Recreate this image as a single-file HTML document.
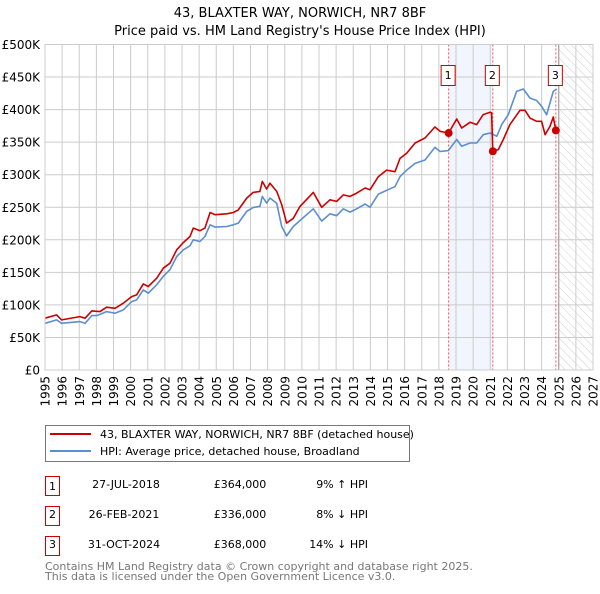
<!DOCTYPE html>
<html><head><meta charset="utf-8"><style>
body{margin:0;background:#fff;font-family:"DejaVu Sans","Liberation Sans",sans-serif;}
svg text{font-family:"DejaVu Sans","Liberation Sans",sans-serif;}
</style></head><body>
<svg id="chart" width="600" height="590" xmlns="http://www.w3.org/2000/svg">
<defs><pattern id="hatch" patternUnits="userSpaceOnUse" width="6" height="6" patternTransform="rotate(-45)"><line x1="0" y1="0" x2="0" y2="6" stroke="#bbb" stroke-width="0.7"/></pattern></defs>
<text x="300" y="17" text-anchor="middle" font-size="13">43, BLAXTER WAY, NORWICH, NR7 8BF</text>
<text x="300" y="35" text-anchor="middle" font-size="13">Price paid vs. HM Land Registry's House Price Index (HPI)</text>
<g id="plot"></g>
<g>
<rect x="45.5" y="425.5" width="364" height="36" fill="#fff" stroke="#777"/>
<line x1="50" y1="434" x2="91" y2="434" stroke="#cc0000" stroke-width="2"/>
<text x="100" y="438" font-size="11">43, BLAXTER WAY, NORWICH, NR7 8BF (detached house)</text>
<line x1="50" y1="451" x2="91" y2="451" stroke="#5b8fd0" stroke-width="2"/>
<text x="100" y="455" font-size="11">HPI: Average price, detached house, Broadland</text>
</g>
<g font-size="11">
<rect x="45.5" y="476.5" width="14" height="19" fill="#fff" stroke="#c00"/><text x="52.5" y="490" text-anchor="middle">1</text>
<text x="126" y="488" text-anchor="middle">27-JUL-2018</text><text x="240" y="488" text-anchor="middle">£364,000</text><text x="368" y="488" text-anchor="end">9% ↑ HPI</text>
<rect x="45.5" y="506.5" width="14" height="19" fill="#fff" stroke="#c00"/><text x="52.5" y="518" text-anchor="middle">2</text>
<text x="124" y="518" text-anchor="middle">26-FEB-2021</text><text x="240" y="518" text-anchor="middle">£336,000</text><text x="368" y="518" text-anchor="end">8% ↓ HPI</text>
<rect x="45.5" y="536.5" width="14" height="19" fill="#fff" stroke="#c00"/><text x="52.5" y="548" text-anchor="middle">3</text>
<text x="124" y="548" text-anchor="middle">31-OCT-2024</text><text x="240" y="548" text-anchor="middle">£368,000</text><text x="368" y="548" text-anchor="end">14% ↓ HPI</text>
</g>
<text x="45" y="570" font-size="11" fill="#777">Contains HM Land Registry data © Crown copyright and database right 2025.</text>
<text x="45" y="580" font-size="11" fill="#777">This data is licensed under the Open Government Licence v3.0.</text>
</svg>
<script>
const yTicks=[0,50,100,150,200,250,300,350,400,450,500];
const yTickLabels=["£0","£50K","£100K","£150K","£200K","£250K","£300K","£350K","£400K","£450K","£500K"];
const xYears=[1995,1996,1997,1998,1999,2000,2001,2002,2003,2004,2005,2006,2007,2008,2009,2010,2011,2012,2013,2014,2015,2016,2017,2018,2019,2020,2021,2022,2023,2024,2025,2026,2027];
const hpiDates=[1995,1995.68,1995.97,1997.04,1997.34,1997.73,1998.02,1998.6,1999.09,1999.57,2000.06,2000.35,2000.74,2001.03,2001.52,2001.91,2002.3,2002.69,2003.08,2003.47,2003.66,2004.05,2004.34,2004.64,2004.93,2005.61,2006.0,2006.29,2006.78,2007.16,2007.55,2007.69,2007.94,2008.14,2008.53,2008.82,2009.11,2009.5,2009.89,2010.67,2011.16,2011.64,2012.03,2012.42,2012.81,2013.2,2013.69,2013.98,2014.46,2014.95,2015.44,2015.73,2016.12,2016.61,2017.19,2017.77,2018.07,2018.55,2019.04,2019.33,2019.82,2020.21,2020.59,2020.99,2021.38,2021.67,2022.05,2022.54,2022.93,2023.32,2023.71,2024.0,2024.29,2024.68,2024.88];
const hpiValues=[71.8,76.9,71.8,74.4,71.8,83.6,83.6,89.7,87.2,92.3,105,107.7,123,118,131,144,154,174.4,184.6,190.8,200,197.4,205,223,219.5,220.5,223,225.6,243.6,249.7,251.3,266.7,256.4,264,256,220.5,206,220.5,229.7,247.6,228.7,240,237,247.6,242.5,247.6,255,250,270,276,281.5,296.9,307,317.4,322.6,342,335.7,337,354,343.6,348.7,348.7,361.5,364,359,377,392,428,431.6,417.7,414,405,392,428,431.6];
const priceDates=[1995,1995.68,1995.97,1997.04,1997.34,1997.73,1998.21,1998.6,1999.09,1999.57,2000.06,2000.35,2000.74,2001.03,2001.52,2001.91,2002.3,2002.69,2003.08,2003.47,2003.66,2004.05,2004.34,2004.64,2004.93,2005.61,2006.0,2006.29,2006.78,2007.16,2007.55,2007.69,2007.94,2008.14,2008.53,2008.82,2009.11,2009.5,2009.89,2010.67,2011.16,2011.64,2012.03,2012.42,2012.81,2013.2,2013.69,2013.98,2014.46,2014.95,2015.44,2015.73,2016.12,2016.61,2017.19,2017.77,2018.07,2018.57,2019.04,2019.33,2019.82,2020.21,2020.59,2020.99,2021.08,2021.15,2021.47,2021.76,2022.15,2022.74,2023.03,2023.32,2023.71,2024.0,2024.2,2024.49,2024.68,2024.83];
const priceValues=[79.5,84.6,76.9,82,79.5,90.8,89.7,96.4,94.8,102.6,112.8,115.4,132.3,128.2,141,156.4,164,184.6,195.9,205,218,214,218,242,238.5,240,242,246,264,272.8,274.4,289.7,278,287,274.4,254,225.6,233,251.3,272.8,250,261.5,259,269,266.7,271.8,279.5,276.9,297,307,304.6,325,333,348.7,356.4,373.3,366.7,364,385.6,371.8,380.5,377,392.3,395.9,395,336,338.5,354,377,399,399,387,382,382,361.5,374.4,388.7,368];
const saleDates=[2018.57,2021.15,2024.83];
const saleValues=[364,336,368];
const saleLabels=["1","2","3"];

const NS="http://www.w3.org/2000/svg";
const L=45,R=593,T=44.5,B=370,X0=1995,X1=2027,YMAX=500;
const xs=y=>L+(y-X0)/(X1-X0)*(R-L);
const ys=v=>B-v/YMAX*(B-T);
const plot=document.getElementById('plot');
function mk(tag,attrs,parent){const e=document.createElementNS(NS,tag);for(const k in attrs)e.setAttribute(k,attrs[k]);(parent||plot).appendChild(e);return e;}
// shaded region
let sh=mk('rect',{x:xs(saleDates[0]),y:T,width:xs(saleDates[1])-xs(saleDates[0]),height:B-T,fill:'#eef3fc',opacity:0.8});


let hb=mk('rect',{x:xs(2025),y:T,width:R-xs(2025),height:B-T,fill:'url(#hatch)'});


// grid
xYears.forEach((yr,i)=>{
  let g=mk('line',{x1:xs(yr),x2:xs(yr),y1:T,y2:B,stroke:'#cccccc','stroke-width':1});
  
  
  let t=mk('text',{x:0,y:0,'font-size':12,'text-anchor':'end',transform:`translate(${xs(yr)+4.5},376) rotate(-90)`});
  t.textContent=yr;
  
  
});
yTicks.forEach((v,i)=>{
  let g=mk('line',{x1:L,x2:R,y1:ys(v),y2:ys(v),stroke:'#cccccc','stroke-width':1});
  
  
  let t=mk('text',{x:40,y:ys(v)+4.5,'font-size':12,'text-anchor':'end'});
  t.textContent=yTickLabels[i];
  
  
});
let nl=mk('line',{x1:xs(2025),x2:xs(2025),y1:T,y2:B,stroke:'#999','stroke-width':1});


saleDates.forEach((d,i)=>{
  let l=mk('line',{x1:xs(d),x2:xs(d),y1:T,y2:B,stroke:'#e55','stroke-width':1,'stroke-dasharray':'2,2'});
  
  
});
function path(dates,vals,color,name){
  let d=dates.map((x,i)=>(i?'L':'M')+xs(x).toFixed(1)+','+ys(vals[i]).toFixed(1)).join('');
  let p=mk('path',{d:d,fill:'none',stroke:color,'stroke-width':1.6,'stroke-linejoin':'round'});
  
  
}
path(hpiDates,hpiValues,'#5b8fd0','hpi-line');
path(priceDates,priceValues,'#cc0000','price-paid-line');
saleDates.forEach((d,i)=>{
  let c=mk('circle',{cx:xs(d),cy:ys(saleValues[i]),r:4,fill:'#cc0000'});
  
  
  let b=mk('rect',{x:xs(d)-7.5,y:65.5,width:14,height:20,fill:'#fff',stroke:'#c00'});
  
  
  let t=mk('text',{x:xs(d)-0.5,y:79,'font-size':11,'text-anchor':'middle'});
  t.textContent=saleLabels[i];
  
  
});
let fr=mk('rect',{x:L,y:T,width:R-L,height:B-T,fill:'none',stroke:'#cccccc'});


</script>
</body></html>
